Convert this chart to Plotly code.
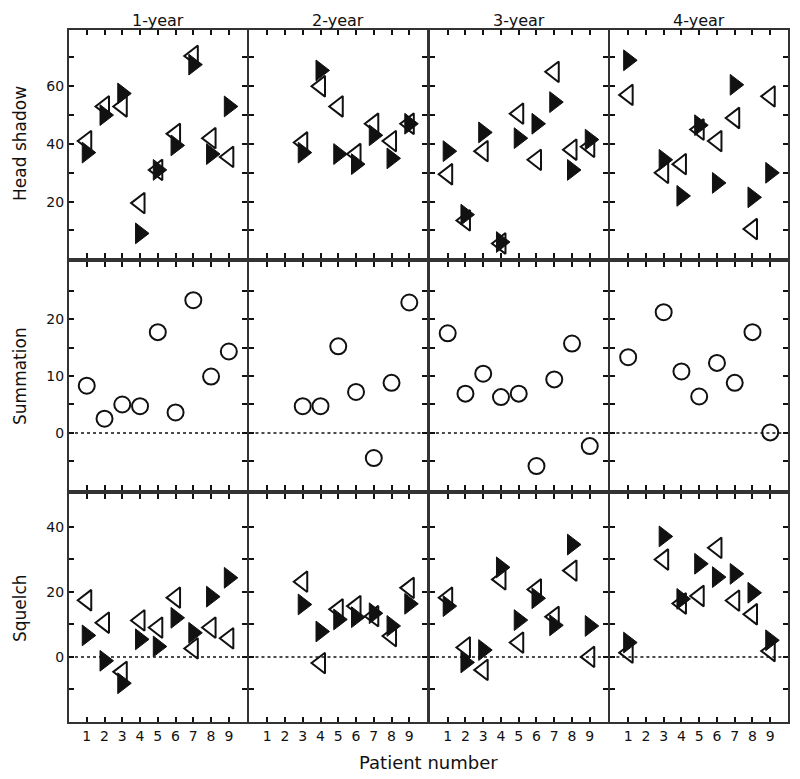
import plotly.graph_objects as go
from plotly.subplots import make_subplots

# patient numbers on the x axis
patients = [1, 2, 3, 4, 5, 6, 7, 8, 9]
years = ['1-year', '2-year', '3-year', '4-year']
N = None

# Head shadow (filled = right-pointing, open = left-pointing), one list per year
hs_filled = [
    [37, 50, 57.5, 9, 31, 39.5, 67.5, 36.5, 53],
    [N, N, 37, 65.5, 36.5, 33, 43, 35, 47],
    [37.5, 15.5, 44, 6, 42, 47, 54.5, 31, 41.5],
    [69, N, 34.5, 22, 46.5, 26.5, 60.5, 21.5, 30],
]
hs_open = [
    [41, 53, 53, 19.5, 31, 43.5, 70.5, 42, 35.5],
    [N, N, 40.5, 60, 53, 36.5, 47, 41, 47],
    [29.5, 13.5, 37.5, 5.5, 50.5, 34.5, 65, 38, 39],
    [57, N, 30, 33, 45, 41, 49, 10.5, 56.5],
]

# Summation (open circles)
summation = [
    [8.3, 2.5, 5.0, 4.7, 17.7, 3.6, 23.3, 9.9, 14.3],
    [N, N, 4.7, 4.7, 15.2, 7.2, -4.4, 8.8, 22.9],
    [17.5, 6.9, 10.4, 6.3, 6.9, -5.8, 9.4, 15.7, -2.3],
    [13.3, N, 21.2, 10.8, 6.4, 12.3, 8.8, 17.7, 0.1],
]

# Squelch
sq_filled = [
    [6.6, -1.2, -8.1, 5.4, 3.2, 12, 7.4, 18.5, 24.3],
    [N, N, 16.1, 7.8, 11.5, 12.2, 13.4, 9.5, 16.3],
    [15.6, -1.7, 2.1, 27.5, 11.3, 18, 9.7, 34.5, 9.5],
    [4.4, N, 37, 17.8, 28.6, 24.5, 25.5, 19.7, 5.1],
]
sq_open = [
    [17.4, 10.5, -4.6, 11.2, 9, 18.2, 2.6, 9, 5.7],
    [N, N, 23.1, -1.9, 14.6, 15.6, 12.5, 6.4, 21.2],
    [18.2, 2.9, -4, 23.8, 4.4, 20.7, 12.3, 26.5, 0],
    [1.3, N, 29.9, 16.4, 18.7, 33.5, 17.3, 13.1, 1.8],
]

row_titles = ['Head shadow', 'Summation', 'Squelch']
y_ranges = [[0.5, 79.5], [-10, 30], [-20, 50]]
y_ticks = [
    ([10, 20, 30, 40, 50, 60, 70], ['', '20', '', '40', '', '60', '']),
    ([-5, 0, 5, 10, 15, 20, 25], ['', '0', '', '10', '', '20', '']),
    ([-10, 0, 10, 20, 30, 40], ['', '0', '', '20', '', '40']),
]

FONT = 'DejaVu Sans'
INK = '#111111'
TRI = 18

fig = make_subplots(rows=3, cols=4, horizontal_spacing=0.004,
                    vertical_spacing=0.006, subplot_titles=years)

for c in range(4):
    col = c + 1
    # head shadow
    fig.add_trace(go.Scatter(x=patients, y=hs_open[c], mode='markers',
                             marker=dict(symbol='triangle-left', size=TRI, color='white',
                                         line=dict(color=INK, width=2)),
                             showlegend=False), row=1, col=col)
    fig.add_trace(go.Scatter(x=patients, y=hs_filled[c], mode='markers',
                             marker=dict(symbol='triangle-right', size=TRI, color=INK,
                                         line=dict(color=INK, width=1)),
                             showlegend=False), row=1, col=col)
    # summation
    fig.add_trace(go.Scatter(x=patients, y=summation[c], mode='markers',
                             marker=dict(symbol='circle', size=16, color='white',
                                         line=dict(color=INK, width=2)),
                             showlegend=False), row=2, col=col)
    # squelch
    fig.add_trace(go.Scatter(x=patients, y=sq_open[c], mode='markers',
                             marker=dict(symbol='triangle-left', size=TRI, color='white',
                                         line=dict(color=INK, width=2)),
                             showlegend=False), row=3, col=col)
    fig.add_trace(go.Scatter(x=patients, y=sq_filled[c], mode='markers',
                             marker=dict(symbol='triangle-right', size=TRI, color=INK,
                                         line=dict(color=INK, width=1)),
                             showlegend=False), row=3, col=col)

    for r in range(3):
        row = r + 1
        tv, tt = y_ticks[r]
        fig.update_yaxes(range=y_ranges[r], tickvals=tv, ticktext=tt,
                         showticklabels=(col == 1), row=row, col=col)
        fig.update_xaxes(range=[0, 10], tickvals=patients,
                         showticklabels=(row == 3), row=row, col=col)
        if row > 1:
            # dotted zero line
            fig.add_hline(y=0, line=dict(color=INK, width=1.5, dash='dot'),
                          row=row, col=col)

fig.update_xaxes(showline=True, mirror='ticks', linecolor='#333333', linewidth=2,
                 ticks='inside', ticklen=5, tickwidth=1.5, tickcolor=INK,
                 showgrid=False, zeroline=False, automargin=False,
                 tickfont=dict(size=14, family=FONT, color=INK))
fig.update_yaxes(showline=True, mirror='ticks', linecolor='#333333', linewidth=2,
                 ticks='inside', ticklen=5, tickwidth=1.5, tickcolor=INK,
                 showgrid=False, zeroline=False, automargin=False,
                 tickfont=dict(size=14, family=FONT, color=INK))

# column titles
for ann in fig.layout.annotations:
    ann.font = dict(size=16, family=FONT, color=INK)
    ann.yshift = -2

# row titles
for r, t in enumerate(row_titles):
    yax = fig.layout['yaxis' if r == 0 else 'yaxis%d' % (r * 4 + 1)]
    yc = (yax.domain[0] + yax.domain[1]) / 2
    fig.add_annotation(text=t, x=0, y=yc, xref='paper', yref='paper',
                       xanchor='center', yanchor='middle', xshift=-49,
                       textangle=-90, showarrow=False,
                       font=dict(size=17, family=FONT, color=INK))

fig.add_annotation(text='Patient number', x=0.5, y=0, xref='paper', yref='paper',
                   yanchor='top', yshift=-28, showarrow=False,
                   font=dict(size=18, family=FONT, color=INK))

# the page body adds an 8px margin, so the figure is made 8px smaller
fig.update_layout(width=792, height=771, plot_bgcolor='white', paper_bgcolor='white',
                  margin=dict(l=61, r=12, t=22, b=57),
                  font=dict(family=FONT, color=INK))

fig.write_html("out.html")
